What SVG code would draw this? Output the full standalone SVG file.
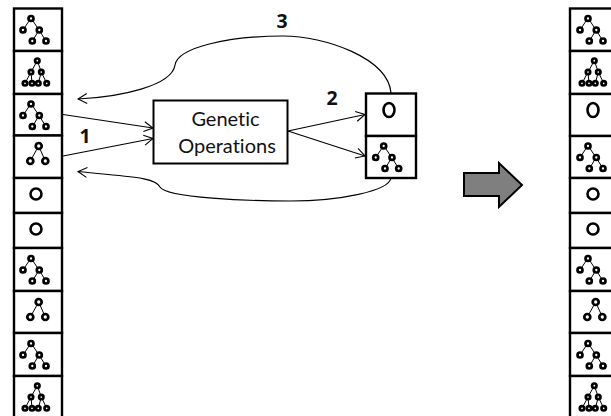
<svg xmlns="http://www.w3.org/2000/svg" width="611" height="416" viewBox="0 0 611 416">
<style>
.cell{fill:#fff;stroke:#000;stroke-width:2.4}
.n{fill:#fff;stroke:#000;stroke-width:2.7}
.o{fill:#fff;stroke:#000;stroke-width:2.6}
.e{stroke:#000;stroke-width:1;fill:none}
.c{stroke:#000;stroke-width:1.2;fill:none;marker-end:url(#a)}
.t{font-family:Lato,"Open Sans",sans-serif;font-size:20px;fill:#111;text-anchor:middle;font-variant-ligatures:none}
.b{font-family:"Noto Sans","Open Sans",sans-serif;font-weight:700;font-size:19.500px;fill:#111;text-anchor:middle}
</style>
<defs>
<marker id="a" viewBox="0 0 12 12" refX="11" refY="6" markerWidth="12" markerHeight="12" markerUnits="userSpaceOnUse" orient="auto"><path d="M2,1 L11,6 L2,11" fill="none" stroke="#000" stroke-width="1.1"/></marker>
<g id="A"><path class="e" d="M31,18L23,30M31,18L39,30L32.500,41M39,30L46,41"/><circle class="n" cx="31" cy="18.500" r="2.500"/><circle class="n" cx="23" cy="30" r="2.500"/><circle class="n" cx="39.300" cy="30" r="2.500"/><circle class="n" cx="32.300" cy="41" r="2.500"/><circle class="n" cx="46" cy="41" r="2.500"/></g>
<g id="B"><path class="e" d="M37.300,9.700L31,21L25,32.300M31,21L32,32.300M37.300,9.700L41.300,21L38.300,32.300M41.300,21L46.700,32.300"/><circle class="n" cx="37.300" cy="9.700" r="2.200"/><circle class="n" cx="31" cy="21" r="2.200"/><circle class="n" cx="41.300" cy="21" r="2.200"/><circle class="n" cx="25" cy="32.300" r="2.200"/><circle class="n" cx="32" cy="32.300" r="2.200"/><circle class="n" cx="38.300" cy="32.300" r="2.200"/><circle class="n" cx="46.700" cy="32.300" r="2.200"/></g>
<g id="C"><path class="e" d="M38.700,11L30.300,26M38.700,11L45.300,26"/><circle class="n" cx="38.700" cy="11" r="3"/><circle class="n" cx="30.300" cy="26" r="3"/><circle class="n" cx="45.300" cy="26" r="3"/></g>
</defs>
<g id="connectors">
<path class="c" d="M63,114.500L153,128"/>
<path class="c" d="M63,156L153,138.500"/>
<path class="c" d="M288,131L365,114.500"/>
<path class="c" d="M288,131L365,156"/>
<path class="c" d="M391,93C388,58 325,36 283,36C230,36 178,47 175,65C172,86 120,97 78,99"/>
<path class="c" d="M391,178C389,191 340,201 290,201C250,201 166,198 160,187C155,177 130,177 78,171.500"/>
</g>
<g id="population-left">
<g id="l1"><rect class="cell" x="14" y="8.500" width="48" height="42.500"/><use href="#A"/></g>
<g id="l2"><rect class="cell" x="14" y="51" width="48" height="43"/><use href="#B" y="51"/></g>
<g id="l3"><rect class="cell" x="14" y="94" width="48" height="41.500"/><use href="#A" y="85.500"/></g>
<g id="l4"><rect class="cell" x="14" y="135.500" width="48" height="42.500"/><use href="#C" y="135"/></g>
<g id="l5"><rect class="cell" x="14" y="178" width="48" height="35"/><circle class="o" cx="36" cy="194" r="5.500"/></g>
<g id="l6"><rect class="cell" x="14" y="213" width="48" height="35"/><circle class="o" cx="36" cy="229" r="5.500"/></g>
<g id="l7"><rect class="cell" x="14" y="248" width="48" height="43"/><use href="#A" y="240"/></g>
<g id="l8"><rect class="cell" x="14" y="291" width="48" height="42"/><use href="#C" y="291"/></g>
<g id="l9"><rect class="cell" x="14" y="333" width="48" height="43"/><use href="#A" y="325"/></g>
<g id="l10"><rect class="cell" x="14" y="376" width="48" height="50"/><use href="#B" y="376"/></g>
</g>
<g id="genetic-operations"><rect x="153.500" y="100.500" width="134" height="63" fill="#fff" stroke="#000" stroke-width="2"/><text class="t" x="225.500" y="126">Genetic</text><text class="t" x="227" y="153">Operations</text></g>
<g id="offspring">
<g id="o1"><rect class="cell" x="366" y="93.500" width="50" height="42.500"/><ellipse class="o" cx="389" cy="110" rx="5.500" ry="7"/></g>
<g id="o2"><rect class="cell" x="366" y="136" width="50" height="42"/><use href="#A" x="352.700" y="127.500"/></g>
</g>
<g id="step-labels"><text class="b" x="282" y="28">3</text><text class="b" x="332" y="105">2</text><text class="b" x="85" y="143">1</text></g>
<g id="big-arrow"><path d="M464,173H499V163L522,185L499,207V196H464Z" fill="#7f7f7f" stroke="#000" stroke-width="2"/></g>
<g id="population-right">
<g id="r1"><rect class="cell" x="570" y="8.500" width="48" height="42.500"/><use href="#A" x="557"/></g>
<g id="r2"><rect class="cell" x="570" y="51" width="48" height="43"/><use href="#B" x="557" y="51"/></g>
<g id="r3"><rect class="cell" x="570" y="94" width="48" height="42"/><ellipse class="o" cx="593" cy="110" rx="5.500" ry="7"/></g>
<g id="r4"><rect class="cell" x="570" y="136" width="48" height="42"/><use href="#A" x="557" y="127.500"/></g>
<g id="r5"><rect class="cell" x="570" y="178" width="48" height="35"/><circle class="o" cx="593" cy="194" r="5.500"/></g>
<g id="r6"><rect class="cell" x="570" y="213" width="48" height="35"/><circle class="o" cx="593" cy="229" r="5.500"/></g>
<g id="r7"><rect class="cell" x="570" y="248" width="48" height="43"/><use href="#A" x="557" y="240"/></g>
<g id="r8"><rect class="cell" x="570" y="291" width="48" height="42"/><use href="#C" x="557" y="291"/></g>
<g id="r9"><rect class="cell" x="570" y="333" width="48" height="43"/><use href="#A" x="557" y="325"/></g>
<g id="r10"><rect class="cell" x="570" y="376" width="48" height="50"/><use href="#B" x="557" y="376"/></g>
</g>
</svg>
